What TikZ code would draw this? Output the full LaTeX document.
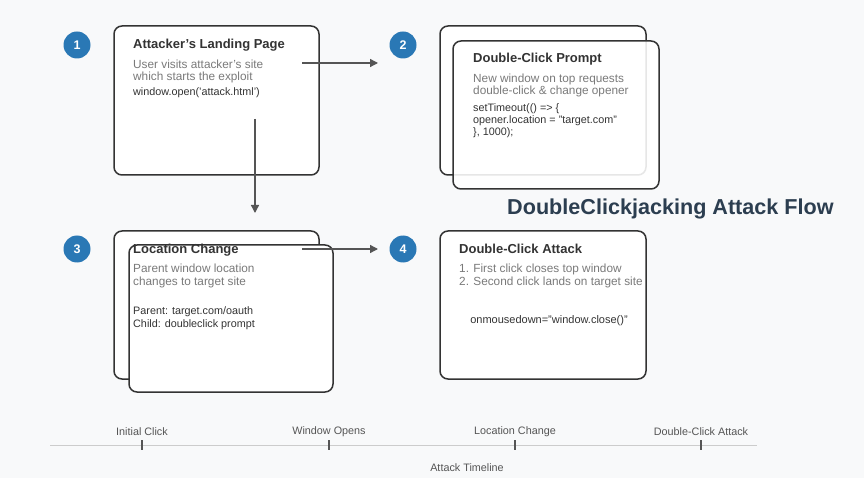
\documentclass[tikz,border=0pt]{standalone}
\usepackage{fontspec}
\setmainfont{Liberation Sans}
\usetikzlibrary{arrows.meta}
\definecolor{bg}{HTML}{F8F9FA}
\definecolor{boxline}{HTML}{333333}
\definecolor{stepblue}{HTML}{2A78B5}
\definecolor{titlecol}{HTML}{333333}
\definecolor{subcol}{HTML}{7A7A7A}
\definecolor{codecol}{HTML}{333333}
\definecolor{arrowcol}{HTML}{555555}
\definecolor{headcol}{HTML}{2C3E50}
\definecolor{tlcol}{HTML}{CCCCCC}
\definecolor{tlticks}{HTML}{555555}
\definecolor{tltext}{HTML}{555555}
\tikzset{
  win/.style={draw=boxline, line width=1.5pt, rounded corners=8pt, fill=white},
  stepnum/.style={circle, fill=stepblue, minimum size=27pt, inner sep=0pt, text=white, font=\fontsize{12.5}{14}\selectfont\bfseries},
  wtitle/.style={anchor=base west, inner sep=0pt, text=titlecol, font=\fontsize{13}{15}\selectfont\bfseries},
  wsub/.style={anchor=base west, inner sep=0pt, text=subcol, align=left, font=\fontsize{11.8}{12.8}\selectfont},
  wcode/.style={anchor=base west, inner sep=0pt, text=codecol, align=left, font=\fontsize{10.8}{12.2}\selectfont},
  flow/.style={draw=arrowcol, line width=1.3pt, -{Triangle[length=8pt,width=8pt]}},
  tllabel/.style={inner sep=0pt, text=tltext, font=\fontsize{10.8}{12}\selectfont},
}
\begin{document}
\begin{tikzpicture}[x=1pt,y=-1pt]
\useasboundingbox (0,0) rectangle (864,478);
\fill[bg] (0,0) rectangle (864,478);

% Box 1
\draw[win] (114,26) rectangle (319,175);
\node[stepnum] (c1) at (77,45) {1};
\node[wtitle] (t1) at (133,49) {Attacker's Landing Page};
\node[wsub] (s1) at (133,81) {User visits attacker's site\\which starts the exploit};
\node[wcode] (k1) at (133,96) {window.open('attack.html')};

% Box 2
\draw[win] (440,26) rectangle (646,175);
\draw[win, fill opacity=0.88] (453,41) rectangle (659,189);
\node[stepnum] (c2) at (403,45) {2};
\node[wtitle] (t2) at (473,63) {Double-Click Prompt};
\node[wsub] (s2) at (473,95) {New window on top requests\\double-click \& change opener};
\node[wcode] (k2) at (473,135.5) {setTimeout(() => \{\\opener.location = "target.com"\\\}, 1000);};

% Heading
\node[anchor=base west, inner sep=0pt, text=headcol, font=\fontsize{21.6}{24}\selectfont\bfseries] (head) at (507,215) {DoubleClickjacking Attack Flow};

% Box 3
\draw[win] (114,231) rectangle (319,379);
\draw[win] (129,245) rectangle (333,392);
\node[stepnum] (c3) at (77,249) {3};
\node[wtitle] (t3) at (133,254) {Location Change};
\node[wsub] (s3) at (133,285.5) {Parent window location\\changes to target site};
\node[wcode] (k3) at (133,327) {Parent: target.com/oauth\\Child: doubleclick prompt};

% Box 4
\draw[win] (440,231) rectangle (646,379);
\node[stepnum] (c4) at (403,249) {4};
\node[wtitle] (t4) at (459,254) {Double-Click Attack};
\node[wsub] (s4) at (459,285.5) {1. First click closes top window\\2. Second click lands on target site};
\node[anchor=base, inner sep=0pt, text=codecol, font=\fontsize{11}{12}\selectfont] (k4) at (549,323) {onmousedown="window.close()"};

% Flow arrows
\coordinate (a1s) at (302,63);
\coordinate (a1e) at (378,63);
\coordinate (a2s) at (255,119);
\coordinate (a2e) at (255,213);
\coordinate (a3s) at (302,249);
\coordinate (a3e) at (378,249);
\draw[flow] (a1s) -- (a1e);
\draw[flow] (a2s) -- (a2e);
\draw[flow] (a3s) -- (a3e);

% Timeline
\coordinate (tl0) at (50,445);
\coordinate (tl1) at (757,445);
\draw[tlcol, line width=1pt] (tl0) -- (tl1);
\foreach \x/\lab/\nm in {142/Initial Click/p1, 329/Window Opens/p2, 515/Location Change/p3, 701/Double-Click Attack/p4}{
  \draw[tlticks, line width=1.2pt] (\x,440) -- (\x,450);
  \node[tllabel] (\nm) at (\x,432) {\lab};
}
\node[tllabel] (tlt) at (467,468) {Attack Timeline};
\end{tikzpicture}
\end{document}
